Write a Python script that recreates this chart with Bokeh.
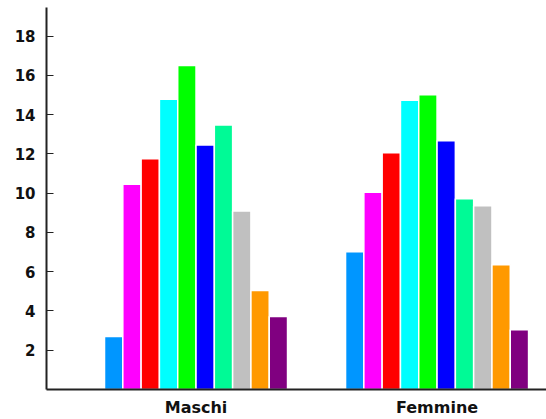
from bokeh.plotting import figure
from bokeh.models import Range1d, FixedTicker, ColumnDataSource
from bokeh.embed import file_html
from bokeh.resources import INLINE

# Data
groups = ["Maschi", "Femmine"]
group_centers = [8.17, 21.34]
series_colors = ["#0096FF", "#FF00FF", "#FF0000", "#00FFFF", "#00FF00",
                 "#0000FF", "#00FA96", "#C0C0C0", "#FF9900", "#800080"]
maschi = [2.7, 10.45, 11.75, 14.78, 16.5, 12.45, 13.47, 9.09, 5.04, 3.72]
femmine = [7.02, 10.05, 12.06, 14.73, 15.02, 12.67, 9.72, 9.36, 6.35, 3.04]
y_ticks = [2, 4, 6, 8, 10, 12, 14, 16, 18]

values = [maschi, femmine]
xs, tops, cols = [], [], []
for g, center in enumerate(group_centers):
    n = len(values[g])
    for i, v in enumerate(values[g]):
        xs.append(center + (i - (n - 1) / 2))
        tops.append(v)
        cols.append(series_colors[i])
src = ColumnDataSource(dict(x=xs, top=tops, color=cols))

p = figure(width=546, height=419, output_backend="svg", toolbar_location=None,
           x_range=Range1d(0, 27.32), y_range=Range1d(0, 19.46),
           min_border_left=46, min_border_right=0, min_border_top=7,
           min_border_bottom=30)
p.vbar(x="x", top="top", bottom=0, width=1.0, fill_color="color",
       line_color="white", line_width=1.5, source=src)

p.xgrid.visible = False
p.ygrid.visible = False
p.outline_line_color = None

font = "DejaVu Sans"
p.yaxis.ticker = FixedTicker(ticks=y_ticks)
p.yaxis.minor_tick_line_color = None
p.yaxis.major_tick_in = 7
p.yaxis.major_tick_out = 0
p.yaxis.major_tick_line_color = "#222222"
p.yaxis.axis_line_color = "#222222"
p.yaxis.axis_line_width = 2
p.yaxis.major_label_text_font = font
p.yaxis.major_label_text_font_style = "bold"
p.yaxis.major_label_text_font_size = "15px"
p.yaxis.major_label_text_color = "#111111"
p.yaxis.major_label_standoff = 11

p.xaxis.ticker = FixedTicker(ticks=group_centers)
p.xaxis.major_label_overrides = {c: g for c, g in zip(group_centers, groups)}
p.xaxis.major_tick_line_color = None
p.xaxis.major_tick_in = 0
p.xaxis.major_tick_out = 0
p.xaxis.minor_tick_line_color = None
p.xaxis.minor_tick_in = 0
p.xaxis.minor_tick_out = 0
p.xaxis.axis_line_color = "#222222"
p.xaxis.axis_line_width = 2
p.xaxis.major_label_text_font = font
p.xaxis.major_label_text_font_style = "bold"
p.xaxis.major_label_text_font_size = "16px"
p.xaxis.major_label_text_color = "#111111"
p.xaxis.major_label_standoff = 8

open("out.html", "w").write(file_html(p, INLINE))
